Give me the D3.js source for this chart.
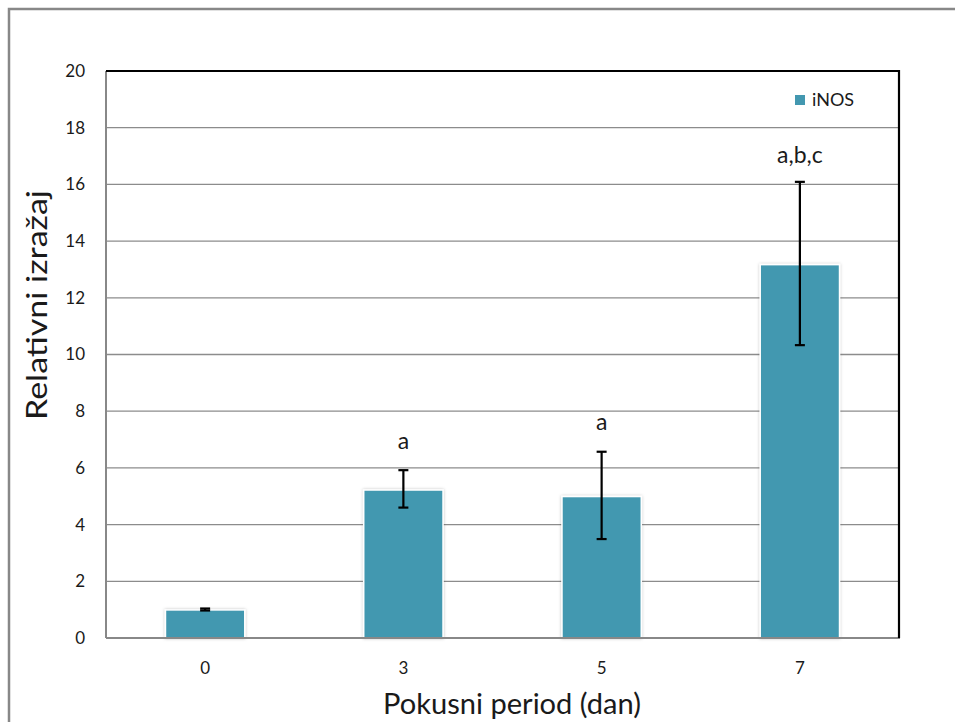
<!DOCTYPE html>
<html><head><meta charset="utf-8">
<script src="https://cdn.jsdelivr.net/npm/d3@7"></script>
<style>body{margin:0;background:#fff}svg{display:block}text{font-family:Lato,"Open Sans",sans-serif;fill:#1a1a1a}</style>
</head><body><svg id="c" width="955" height="722"></svg>
<script>
const categories = ["0","3","5","7"];
const values = [0.99, 5.22, 4.99, 13.17];
const errUpper = [1.04, 5.92, 6.57, 16.09];
const errLower = [0.97, 4.60, 3.49, 10.33];
const sigLabels = ["", "a", "a", "a,b,c"];
const sigLabelValues = [null, 6.65, 7.35, 16.75];
const yTicks = [0,2,4,6,8,10,12,14,16,18,20];
const seriesName = "iNOS";

const svg = d3.select("#c");
const m = {l:106, r:899, t:71, b:638};
const color = "#4398B0";

// outer frame
svg.append("path").attr("d",`M9,722 V9 H955`).attr("fill","none").attr("stroke","#888").attr("stroke-width",2.5);

const x = d3.scaleBand().domain(categories).range([m.l,m.r]).paddingInner(0.6).paddingOuter(0.3);
const y = d3.scaleLinear().domain([0,20]).range([m.b,m.t]);

// gridlines
svg.append("g").selectAll("line").data(yTicks.filter(d=>d>0&&d<20)).join("line")
  .attr("x1",m.l).attr("x2",m.r).attr("y1",d=>y(d)).attr("y2",d=>y(d))
  .attr("stroke","#8c8c8c").attr("stroke-width",1.3);

// bars with subtle glow
const defs = svg.append("defs");
const f = defs.append("filter").attr("id","glow").attr("x","-20%").attr("y","-20%").attr("width","140%").attr("height","140%");
f.append("feDropShadow").attr("dx",0).attr("dy",0).attr("stdDeviation",1.5).attr("flood-color","#000").attr("flood-opacity",0.25);

svg.append("g").selectAll("rect").data(values).join("rect")
  .attr("x",(d,i)=>x(categories[i])).attr("width",x.bandwidth())
  .attr("y",d=>y(d)).attr("height",d=>y(0)-y(d))
  .attr("fill",color).attr("stroke","#fff").attr("stroke-width",1.5).attr("filter","url(#glow)");

// plot border
svg.append("line").attr("x1",m.l).attr("x2",m.l).attr("y1",m.t).attr("y2",m.b).attr("stroke","#888").attr("stroke-width",2);
svg.append("line").attr("x1",m.l).attr("x2",m.r+1).attr("y1",m.b).attr("y2",m.b).attr("stroke","#888").attr("stroke-width",2);
svg.append("path").attr("d",`M${m.l},${m.t} H${m.r} V${m.b}`).attr("fill","none").attr("stroke","#000").attr("stroke-width",2.2);

// error bars
const eg = svg.append("g").attr("stroke","#000").attr("stroke-width",2.2);
categories.forEach((c,i)=>{
  const cx = x(c)+x.bandwidth()/2;
  eg.append("line").attr("x1",cx).attr("x2",cx).attr("y1",y(errUpper[i])).attr("y2",y(errLower[i]));
  [errUpper[i],errLower[i]].forEach(v=>eg.append("line").attr("x1",cx-5).attr("x2",cx+5).attr("y1",y(v)).attr("y2",y(v)));
});

// significance labels
svg.append("g").selectAll("text").data(sigLabels).join("text")
  .attr("x",(d,i)=>x(categories[i])+x.bandwidth()/2)
  .attr("y",(d,i)=>sigLabelValues[i]==null?0:y(sigLabelValues[i]))
  .attr("text-anchor","middle").attr("font-size",23).text(d=>d);

// y axis labels
svg.append("g").selectAll("text").data(yTicks).join("text")
  .attr("x",85).attr("y",d=>y(d)).attr("dy","0.35em").attr("text-anchor","end").attr("font-size",17).text(d=>d);

// x axis labels
svg.append("g").selectAll("text").data(categories).join("text")
  .attr("x",d=>x(d)+x.bandwidth()/2).attr("y",668).attr("dy","0.35em").attr("text-anchor","middle").attr("font-size",17).text(d=>d);

// axis titles
svg.append("text").attr("x",512).attr("y",704).attr("dy","0.35em").attr("text-anchor","middle").attr("font-size",28)
  .attr("textLength",258).attr("lengthAdjust","spacingAndGlyphs").text("Pokusni period (dan)");
svg.append("text").attr("transform","translate(37,305) rotate(-90)").attr("dy","0.35em").attr("text-anchor","middle").attr("font-size",28)
  .attr("textLength",230).attr("lengthAdjust","spacingAndGlyphs").text("Relativni izražaj");

// legend
svg.append("rect").attr("x",795).attr("y",95).attr("width",10).attr("height",10).attr("fill",color);
svg.append("text").attr("x",812).attr("y",100).attr("dy","0.35em").attr("font-size",18).text(seriesName);
</script></body></html>
